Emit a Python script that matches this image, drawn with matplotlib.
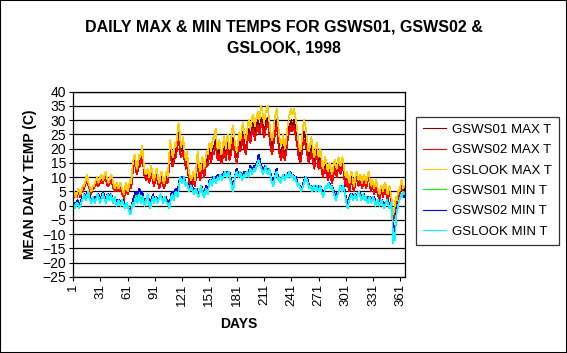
import matplotlib
matplotlib.use("Agg")
import matplotlib.pyplot as plt
import matplotlib.patches as patches
import numpy as np

plt.rcParams['font.family'] = ['Liberation Sans', 'DejaVu Sans']

# daily values, days 1..365 (10 per row)
gsws01_max = [
    5, 4, 4, 3, 4, 4, 5, 5, 4, 4,
    5, 6, 6, 8, 8, 10, 9, 7, 6, 6,
    5, 5, 6, 7, 7, 8, 9, 8, 8, 8,
    9, 10, 9, 8, 9, 10, 11, 9, 8, 7,
    8, 9, 10, 9, 7, 7, 6, 6, 7, 6,
    6, 6, 7, 6, 5, 5, 3, 5, 7, 6,
    5, 5, 7, 8, 7, 11, 15, 15, 17, 14,
    12, 13, 15, 16, 16, 18, 19, 16, 13, 11,
    10, 11, 12, 10, 9, 11, 12, 11, 9, 8,
    9, 10, 11, 10, 8, 7, 9, 10, 10, 8,
    7, 8, 9, 10, 9, 12, 17, 20, 18, 16,
    15, 17, 19, 19, 21, 23, 26, 24, 20, 19,
    20, 21, 19, 16, 14, 17, 15, 11, 9, 8,
    7, 8, 10, 9, 8, 10, 13, 17, 14, 11,
    10, 12, 15, 14, 11, 12, 15, 17, 16, 18,
    20, 19, 17, 20, 21, 20, 22, 23, 20, 18,
    19, 20, 18, 16, 17, 20, 21, 20, 18, 20,
    22, 20, 18, 19, 21, 23, 24, 22, 20, 18,
    17, 19, 21, 23, 21, 22, 25, 26, 23, 21,
    20, 22, 25, 27, 26, 24, 26, 28, 29, 27,
    25, 27, 28, 30, 29, 27, 29, 31, 30, 28,
    26, 27, 29, 30, 31, 29, 26, 23, 21, 20,
    22, 25, 27, 29, 30, 27, 23, 20, 19, 18,
    20, 22, 19, 17, 19, 22, 25, 27, 28, 29,
    30, 28, 29, 30, 28, 26, 24, 22, 19, 18,
    17, 19, 22, 25, 26, 25, 23, 21, 19, 17,
    18, 19, 21, 19, 17, 15, 16, 19, 20, 17,
    15, 17, 18, 15, 12, 11, 13, 15, 14, 12,
    10, 11, 13, 12, 10, 9, 11, 13, 14, 12,
    11, 13, 15, 14, 12, 13, 15, 14, 11, 9,
    8, 10, 9, 7, 6, 8, 10, 9, 7, 6,
    8, 10, 11, 9, 8, 9, 10, 8, 7, 9,
    10, 9, 7, 8, 10, 11, 9, 7, 6, 8,
    7, 5, 6, 8, 7, 5, 4, 3, 5, 6,
    5, 4, 6, 7, 6, 4, 3, 5, 6, 4,
    2, -1, -4, -3, 0, 2, 1, 3, 5, 4,
    6, 8, 7, 5, 6]

gsws02_max = [
    4, 4, 3, 3, 3, 4, 5, 4, 3, 4,
    5, 5, 6, 7, 8, 9, 8, 7, 6, 5,
    4, 5, 6, 6, 7, 8, 8, 7, 7, 8,
    8, 9, 8, 8, 9, 9, 10, 8, 7, 7,
    8, 8, 9, 8, 6, 6, 5, 6, 6, 5,
    5, 6, 6, 5, 4, 4, 2, 4, 6, 5,
    4, 5, 6, 7, 6, 9, 13, 14, 15, 13,
    11, 12, 13, 15, 14, 16, 18, 15, 11, 10,
    9, 10, 10, 9, 8, 10, 11, 10, 8, 7,
    8, 9, 10, 9, 7, 6, 7, 9, 8, 7,
    6, 7, 8, 9, 8, 11, 15, 18, 16, 14,
    14, 15, 17, 17, 19, 21, 23, 22, 18, 17,
    18, 19, 17, 15, 13, 15, 13, 10, 8, 7,
    6, 7, 9, 8, 7, 9, 12, 15, 12, 10,
    9, 11, 13, 12, 10, 11, 14, 15, 14, 16,
    18, 17, 15, 18, 19, 18, 20, 21, 18, 16,
    17, 18, 16, 15, 15, 18, 19, 18, 16, 18,
    20, 18, 16, 17, 19, 21, 22, 20, 18, 16,
    15, 17, 19, 21, 19, 20, 23, 24, 21, 19,
    18, 20, 23, 25, 24, 22, 24, 26, 27, 25,
    23, 25, 26, 28, 27, 25, 27, 29, 28, 26,
    24, 25, 27, 28, 29, 27, 24, 21, 19, 18,
    20, 23, 25, 27, 28, 25, 21, 18, 17, 16,
    18, 20, 17, 16, 18, 20, 23, 25, 26, 27,
    28, 26, 27, 28, 26, 24, 22, 20, 17, 16,
    15, 17, 20, 22, 23, 22, 21, 19, 17, 15,
    16, 17, 19, 17, 15, 13, 14, 17, 18, 15,
    13, 15, 16, 13, 11, 10, 12, 13, 12, 11,
    9, 10, 12, 11, 9, 8, 10, 12, 13, 11,
    10, 12, 14, 13, 11, 12, 14, 13, 10, 8,
    7, 9, 8, 6, 5, 7, 9, 8, 6, 5,
    7, 9, 10, 8, 7, 8, 9, 7, 6, 8,
    9, 8, 6, 7, 9, 10, 8, 6, 5, 7,
    6, 4, 5, 7, 6, 4, 3, 2, 4, 5,
    4, 3, 5, 6, 5, 3, 2, 4, 5, 3,
    1, -3, -5, -4, -1, 1, 0, 2, 4, 3,
    5, 7, 6, 4, 5]

gslook_max = [
    5, 5, 4, 3, 4, 5, 6, 5, 4, 5,
    6, 7, 7, 8, 9, 11, 10, 8, 7, 6,
    5, 6, 7, 7, 8, 9, 10, 9, 8, 9,
    10, 11, 10, 9, 10, 11, 12, 10, 9, 8,
    9, 10, 11, 10, 8, 7, 6, 7, 8, 7,
    6, 7, 8, 7, 6, 5, 4, 6, 8, 7,
    5, 6, 8, 9, 8, 12, 16, 17, 18, 15,
    13, 14, 16, 18, 17, 19, 21, 18, 14, 12,
    11, 12, 13, 11, 10, 12, 14, 12, 10, 9,
    10, 12, 13, 11, 9, 8, 10, 12, 11, 9,
    8, 9, 11, 12, 10, 14, 19, 23, 20, 18,
    17, 19, 22, 21, 23, 26, 29, 27, 23, 21,
    22, 24, 21, 18, 16, 19, 17, 13, 11, 10,
    9, 10, 12, 11, 9, 12, 15, 19, 16, 13,
    12, 14, 17, 16, 13, 14, 17, 19, 18, 20,
    22, 21, 19, 22, 24, 23, 26, 27, 22, 20,
    21, 23, 20, 18, 19, 22, 24, 22, 20, 23,
    25, 22, 20, 21, 24, 27, 28, 25, 22, 20,
    19, 21, 24, 26, 23, 25, 28, 29, 26, 24,
    23, 25, 28, 30, 29, 27, 29, 31, 32, 30,
    28, 30, 31, 33, 32, 30, 33, 35, 34, 31,
    29, 31, 33, 34, 35, 32, 29, 26, 24, 23,
    25, 28, 31, 33, 34, 31, 27, 24, 22, 21,
    23, 25, 22, 20, 22, 25, 28, 30, 32, 33,
    34, 32, 33, 34, 32, 30, 28, 25, 22, 20,
    19, 21, 25, 28, 30, 29, 27, 24, 21, 19,
    20, 22, 24, 22, 19, 17, 18, 21, 22, 19,
    17, 19, 20, 17, 14, 13, 15, 17, 16, 14,
    12, 13, 15, 14, 12, 11, 13, 15, 16, 14,
    13, 15, 17, 16, 14, 15, 17, 16, 13, 11,
    10, 12, 11, 9, 8, 10, 12, 11, 8, 7,
    9, 11, 12, 10, 9, 10, 11, 9, 8, 10,
    11, 10, 8, 9, 11, 12, 10, 8, 7, 9,
    8, 6, 7, 9, 8, 6, 5, 4, 6, 7,
    6, 5, 7, 8, 7, 5, 4, 6, 7, 5,
    3, 0, -3, -2, 1, 3, 2, 4, 6, 5,
    7, 9, 8, 6, 7]

gsws01_min = [
    1, 0, 0, 0, 1, 1, 0, 0, 0, 1,
    2, 3, 4, 3, 3, 3, 4, 5, 3, 2,
    1, 2, 3, 2, 2, 2, 3, 4, 3, 3,
    1, 2, 3, 4, 3, 2, 2, 2, 4, 3,
    2, 3, 4, 2, 2, 2, 3, 1, 1, 1,
    2, 1, 1, 1, 2, 1, 0, -1, 0, 1,
    0, -1, -1, -2, -2, 0, 1, 1, 3, 4,
    3, 2, 4, 5, 3, 2, 3, 3, 1, 0,
    1, 3, 4, 2, 0, -1, 1, 2, 3, 1,
    2, 3, 2, 1, 2, 3, 4, 3, 2, 1,
    2, 3, 2, 1, 1, 0, 0, 1, 3, 4,
    4, 3, 4, 5, 5, 4, 6, 8, 10, 9,
    8, 9, 10, 8, 7, 8, 7, 6, 5, 6,
    7, 6, 5, 4, 5, 6, 5, 4, 3, 4,
    6, 7, 5, 4, 3, 4, 6, 5, 4, 6,
    8, 9, 8, 7, 9, 10, 9, 8, 9, 10,
    9, 10, 11, 10, 9, 10, 11, 12, 11, 10,
    11, 12, 11, 9, 8, 7, 6, 7, 10, 11,
    12, 11, 10, 11, 12, 10, 9, 10, 11, 10,
    11, 12, 11, 10, 12, 13, 12, 11, 12, 13,
    12, 13, 14, 15, 17, 16, 14, 13, 12, 11,
    12, 13, 14, 12, 11, 12, 13, 11, 9, 8,
    7, 8, 10, 11, 12, 10, 9, 10, 8, 9,
    10, 11, 10, 9, 10, 11, 10, 11, 12, 11,
    10, 11, 10, 9, 10, 9, 8, 7, 8, 7,
    6, 5, 6, 7, 8, 9, 10, 9, 8, 7,
    6, 7, 6, 5, 6, 7, 6, 5, 7, 6,
    5, 6, 7, 5, 4, 3, 4, 6, 7, 6,
    7, 8, 7, 6, 7, 6, 5, 4, 3, 2,
    3, 4, 5, 6, 7, 6, 5, 7, 6, 4,
    2, 1, 0, 1, 2, 3, 4, 3, 2, 3,
    4, 3, 2, 4, 5, 4, 3, 2, 3, 4,
    3, 2, 3, 2, 1, 2, 3, 2, 1, 2,
    3, 2, 1, 0, 1, 2, 1, 0, 1, 2,
    1, 0, -1, 0, 1, 2, 1, 0, -1, 0,
    1, -4, -12, -9, -11, -5, -2, -1, 1, 2,
    3, 4, 3, 5, 4]

gsws02_min = [
    1, 1, 0, 1, 1, 2, 1, 0, 1, 2,
    3, 3, 4, 4, 3, 4, 5, 5, 4, 3,
    2, 2, 3, 3, 2, 3, 3, 4, 4, 3,
    2, 3, 4, 5, 4, 3, 2, 3, 4, 4,
    3, 4, 4, 3, 2, 2, 3, 2, 1, 2,
    2, 2, 1, 1, 2, 2, 1, 0, 0, 1,
    0, -1, -1, -2, -1, 1, 2, 3, 4, 5,
    4, 4, 5, 6, 5, 4, 5, 4, 2, 1,
    2, 3, 4, 3, 1, 0, 2, 3, 4, 2,
    3, 3, 3, 2, 2, 3, 4, 3, 3, 2,
    2, 3, 3, 2, 2, 1, 0, 2, 4, 5,
    5, 4, 5, 6, 6, 5, 7, 9, 10, 10,
    9, 10, 10, 9, 8, 8, 8, 7, 6, 7,
    7, 7, 6, 5, 6, 6, 6, 5, 4, 5,
    6, 7, 6, 5, 4, 5, 7, 6, 5, 7,
    9, 9, 9, 8, 10, 10, 10, 9, 10, 11,
    10, 11, 11, 11, 10, 11, 12, 12, 12, 11,
    12, 12, 12, 10, 9, 8, 7, 8, 10, 12,
    13, 12, 11, 12, 12, 11, 10, 11, 12, 11,
    12, 12, 12, 11, 13, 14, 13, 12, 13, 14,
    13, 14, 15, 16, 18, 17, 15, 14, 13, 12,
    13, 14, 14, 13, 12, 13, 13, 12, 10, 9,
    8, 9, 11, 12, 13, 11, 10, 10, 9, 10,
    10, 11, 11, 10, 10, 11, 11, 12, 12, 12,
    11, 11, 11, 10, 10, 10, 9, 8, 8, 7,
    7, 6, 6, 8, 9, 10, 10, 10, 9, 8,
    7, 7, 7, 6, 6, 7, 7, 6, 7, 7,
    6, 6, 7, 6, 5, 4, 5, 6, 7, 7,
    7, 8, 8, 7, 7, 7, 6, 5, 4, 3,
    4, 5, 5, 6, 7, 7, 6, 7, 7, 5,
    3, 2, 1, 2, 3, 4, 4, 4, 3, 4,
    4, 4, 3, 4, 5, 5, 4, 3, 3, 4,
    4, 3, 3, 3, 2, 3, 3, 3, 2, 2,
    3, 3, 2, 1, 1, 2, 2, 1, 1, 2,
    2, 1, 0, 1, 1, 2, 2, 1, 0, 1,
    1, -3, -10, -8, -9, -4, -1, 0, 1, 2,
    3, 4, 4, 5, 3]

gslook_min = [
    1, 0, -1, 0, 1, 1, 0, -1, 0, 1,
    2, 3, 4, 3, 2, 3, 4, 5, 3, 2,
    1, 2, 3, 2, 1, 2, 3, 4, 3, 2,
    1, 2, 3, 4, 3, 2, 1, 2, 4, 3,
    2, 3, 4, 2, 1, 2, 3, 1, 0, 1,
    2, 1, 0, 1, 2, 1, 0, -1, 0, 1,
    0, -1, -2, -3, -2, 0, 1, 0, 2, 3,
    2, 1, 3, 4, 2, 1, 2, 3, 1, 0,
    1, 3, 4, 2, 0, -1, 1, 2, 3, 1,
    2, 3, 2, 1, 2, 3, 4, 3, 2, 1,
    2, 3, 2, 1, 1, 0, -1, 1, 3, 4,
    3, 2, 4, 5, 4, 3, 5, 8, 10, 9,
    8, 9, 10, 8, 7, 8, 7, 6, 5, 6,
    7, 6, 5, 4, 5, 6, 5, 4, 3, 4,
    6, 7, 5, 4, 3, 4, 6, 5, 4, 6,
    8, 9, 8, 7, 9, 10, 9, 8, 9, 10,
    9, 10, 11, 10, 9, 10, 11, 12, 11, 10,
    11, 12, 11, 9, 8, 6, 5, 7, 10, 11,
    12, 11, 10, 11, 12, 10, 9, 10, 11, 10,
    11, 12, 11, 10, 12, 13, 12, 11, 12, 13,
    12, 13, 14, 15, 16, 15, 14, 13, 12, 11,
    12, 13, 14, 12, 11, 12, 13, 11, 9, 8,
    7, 8, 10, 11, 12, 10, 9, 10, 8, 9,
    10, 11, 10, 9, 10, 11, 10, 11, 12, 11,
    10, 11, 10, 9, 10, 9, 8, 7, 8, 7,
    6, 5, 6, 7, 8, 9, 10, 9, 8, 7,
    6, 7, 6, 5, 6, 7, 6, 5, 7, 6,
    5, 6, 7, 5, 4, 3, 4, 6, 7, 6,
    7, 8, 7, 6, 7, 6, 5, 4, 3, 2,
    3, 4, 5, 6, 7, 6, 5, 7, 6, 4,
    2, 0, -1, 1, 2, 3, 4, 3, 2, 3,
    4, 3, 2, 4, 5, 4, 3, 2, 3, 4,
    3, 2, 3, 2, 1, 2, 3, 2, 1, 2,
    3, 2, 1, 0, 1, 2, 1, 0, 1, 2,
    1, 0, -1, 0, 1, 2, 1, 0, -1, 0,
    1, -4, -13, -10, -12, -5, -2, -1, 1, 2,
    3, 4, 3, 5, 4]

series = [
    ('GSWS01 MAX T', gsws01_max, '#800000'),
    ('GSWS02 MAX T', gsws02_max, '#FF0000'),
    ('GSLOOK MAX T', gslook_max, '#FFCC00'),
    ('GSWS01 MIN T', gsws01_min, '#00FF00'),
    ('GSWS02 MIN T', gsws02_min, '#0000FF'),
    ('GSLOOK MIN T', gslook_min, '#00FFFF'),
]

W, H = 567, 353
fig = plt.figure(figsize=(W / 100, H / 100), dpi=100)
ax = fig.add_axes([73 / W, 76 / H, 332 / W, 185.3 / H])

handles = []
for name, vals, col in series:
    days = np.arange(1, len(vals) + 1)
    ln, = ax.plot(days, vals, color=col, lw=0.5, label=name, antialiased=False)
    handles.append(ln)

ax.set_xlim(1, 366)
ax.set_ylim(-25, 40)
ax.set_yticks(np.arange(-25, 41, 5))
ax.set_xticks(np.arange(1, 366, 30))
ax.tick_params(axis='x', labelrotation=90, labelsize=9.5, direction='out', length=3, width=0.8, pad=2)
ax.tick_params(axis='y', labelsize=10, direction='out', length=3, width=0.8, pad=2)
ax.yaxis.grid(True, color='black', lw=0.9)
ax.set_axisbelow(True)
for s in ax.spines.values():
    s.set_color('black')
    s.set_linewidth(0.9)

fig.text(284 / W, 1 - 27 / H, 'DAILY MAX & MIN TEMPS FOR GSWS01, GSWS02 &',
         ha='center', va='center', fontsize=11.5, fontweight='bold')
fig.text(284 / W, 1 - 48 / H, 'GSLOOK, 1998',
         ha='center', va='center', fontsize=11.5, fontweight='bold')
fig.text(30 / W, (76 + 185.3 / 2) / H, 'MEAN DAILY TEMP (C)', rotation=90,
         ha='center', va='center', fontsize=10, fontweight='bold')
fig.text(239 / W, 1 - 324 / H, 'DAYS', ha='center', va='center',
         fontsize=10, fontweight='bold')

leg = fig.legend(handles=handles, loc='upper left', bbox_to_anchor=(416 / W, 1 - 117 / H),
                 fontsize=9.5, frameon=True, fancybox=False, edgecolor='black',
                 handlelength=1.8, handletextpad=0.45, labelspacing=0.62,
                 borderpad=0.5, borderaxespad=0)
leg.get_frame().set_linewidth(0.9)
for l in leg.get_lines():
    l.set_linewidth(0.8)

fig.patches.append(patches.Rectangle((0, 0), 1, 1, transform=fig.transFigure,
                                     fill=False, ec='black', lw=1.5))

fig.savefig('out.png', dpi=100)
